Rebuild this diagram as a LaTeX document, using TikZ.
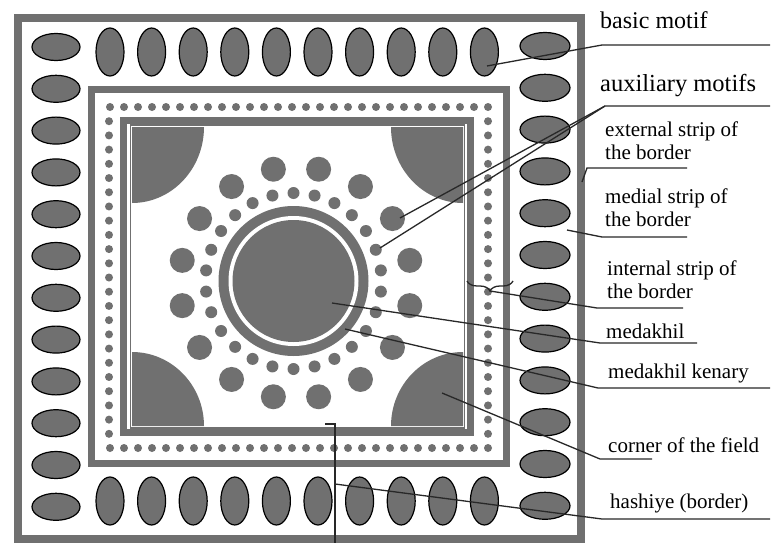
\documentclass[tikz,border=0pt]{standalone}
\usepackage{fontspec}
\setmainfont{Liberation Serif}
\usetikzlibrary{decorations.pathreplacing}
\definecolor{motif}{RGB}{112,112,112}
\definecolor{lead}{RGB}{40,40,40}
\begin{document}
\begin{tikzpicture}[x=1pt,y=-1pt,
    lbl/.style={anchor=base west, inner sep=0pt, align=left, font=\fontsize{21}{23}\selectfont},
    big/.style={lbl, font=\fontsize{24}{26}\selectfont},
    leader/.style={draw=lead, line width=1.3pt},
    oval/.style={fill=motif, draw=black, line width=1.2pt}]
  \useasboundingbox (0,0) rectangle (771,543);
  \fill[white] (0,0) rectangle (771,543);
  \draw[motif, line width=8pt] (18,18) rectangle (581,539);
  \draw[motif, line width=7pt] (91.5,89) rectangle (506.5,463.5);
  \draw[motif, line width=6.5pt] (123.5,120.5) rectangle (470.5,432.5);
  \draw[motif, line width=1.5pt] (130.5,125) rectangle (464.5,428);
  \fill[motif] (132,127) -- (204,127) arc[start angle=0, end angle=90, x radius=72, y radius=76] -- cycle;
  \fill[motif] (463,127) -- (463,203) arc[start angle=90, end angle=180, x radius=72, y radius=76] -- cycle;
  \fill[motif] (463,426) -- (391,426) arc[start angle=180, end angle=270, x radius=72, y radius=74] -- cycle;
  \fill[motif] (132,426) -- (132,352) arc[start angle=270, end angle=360, x radius=72, y radius=74] -- cycle;
  \foreach \k in {0,...,9} {
    \draw[oval] (110+41.6*\k,52) ellipse[x radius=14, y radius=24];
    \draw[oval] (110+41.6*\k,501) ellipse[x radius=14, y radius=24];
  }
  \foreach \k in {0,...,11} {
    \draw[oval] (56,47+41.8*\k) ellipse[x radius=24, y radius=13.5];
    \draw[oval] (545,46+41.8*\k) ellipse[x radius=25, y radius=13.5];
  }
  \foreach \k in {0,...,27} {
    \fill[motif] (110+14*\k,107) circle[radius=4];
    \fill[motif] (110+14*\k,448) circle[radius=4];
  }
  \foreach \k in {1,...,23} {
    \fill[motif] (109,107+14.21*\k) circle[radius=4];
    \fill[motif] (488,107+14.21*\k) circle[radius=4];
  }
  \fill[motif] (293.5,281) circle[radius=75];
  \fill[white] (293.5,281) circle[radius=65];
  \fill[motif] (293.5,281) circle[radius=61];
  \foreach \k in {0,...,25}
    \fill[motif] ([shift={(293.5,281)}]{90+\k*360/26}:88) circle[radius=6];
  \foreach \k in {0,...,15}
    \fill[motif] ([shift={(296,283)}]{11.25+\k*22.5}:116) circle[radius=12.5];
  \draw[leader, decorate, decoration={brace, amplitude=10pt, mirror}] (467,281) -- (513,281);

  \node[big] (basic) at (600,29) {basic motif};
  \node[big, font=\fontsize{24.5}{26}\selectfont] (aux) at (600,92) {auxiliary motifs};
  \node[lbl] (ext) at (605,159) {external strip of\\the border};
  \node[lbl] (med) at (605,226) {medial strip of\\the border};
  \node[lbl] (int) at (607,298) {internal strip of\\the border};
  \node[lbl] (medakhil) at (606,338) {medakhil};
  \node[lbl] (kenary) at (608,378) {medakhil kenary};
  \node[lbl] (corner) at (608,452) {corner of the field};
  \node[lbl] (hashiye) at (610,508) {hashiye (border)};

  \coordinate (basic-t) at (487,66);
  \coordinate (basic-u) at (602,45);
  \coordinate (basic-e) at (770,45);
  \coordinate (aux-t1) at (400,218);
  \coordinate (aux-t2) at (380,248);
  \coordinate (aux-u) at (605,106);
  \coordinate (aux-e) at (770,106);
  \coordinate (ext-t) at (582,182);
  \coordinate (ext-u) at (587,168);
  \coordinate (ext-e) at (687,168);
  \coordinate (med-t) at (567,230);
  \coordinate (med-u) at (602,237);
  \coordinate (med-e) at (687,237);
  \coordinate (int-t) at (490,291);
  \coordinate (int-u) at (597,308);
  \coordinate (int-e) at (683,308);
  \coordinate (medakhil-t) at (332,303);
  \coordinate (medakhil-u) at (600,343);
  \coordinate (medakhil-e) at (697,343);
  \coordinate (kenary-t) at (345,329);
  \coordinate (kenary-u) at (598,388);
  \coordinate (kenary-e) at (770,388);
  \coordinate (corner-t) at (442,393);
  \coordinate (corner-u) at (600,459);
  \coordinate (corner-e) at (652,459);
  \coordinate (hashiye-t) at (335,484);
  \coordinate (hashiye-u) at (602,519);
  \coordinate (hashiye-e) at (770,519);
  \coordinate (field-t) at (325,424);
  \coordinate (field-u) at (335,424);
  \coordinate (field-e) at (335,543);

  \draw[leader] (basic-t) -- (basic-u) -- (basic-e);
  \draw[leader] (aux-t1) -- (aux-u) -- (aux-e);
  \draw[leader] (aux-t2) -- (aux-u);
  \draw[leader] (ext-t) -- (ext-u) -- (ext-e);
  \draw[leader] (med-t) -- (med-u) -- (med-e);
  \draw[leader] (int-t) -- (int-u) -- (int-e);
  \draw[leader] (medakhil-t) -- (medakhil-u) -- (medakhil-e);
  \draw[leader] (kenary-t) -- (kenary-u) -- (kenary-e);
  \draw[leader] (corner-t) -- (corner-u) -- (corner-e);
  \draw[leader] (hashiye-t) -- (hashiye-u) -- (hashiye-e);
  \draw[leader] (field-t) -- (field-u) -- (field-e);
\end{tikzpicture}
\end{document}
